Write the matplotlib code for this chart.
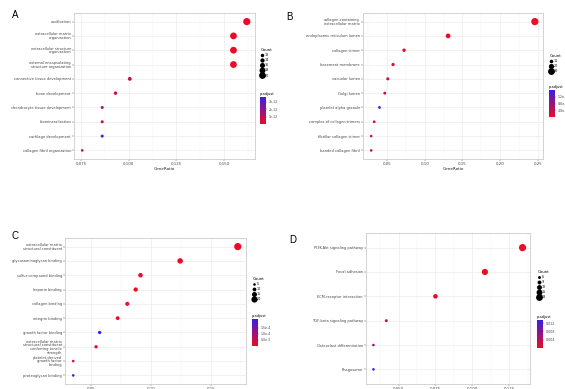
import numpy as np
import matplotlib
matplotlib.use("Agg")
import matplotlib.pyplot as plt
from matplotlib.colors import LinearSegmentedColormap, Normalize
from matplotlib.lines import Line2D
from matplotlib.ticker import FuncFormatter

W, H = 565, 389

# ---- panel A: GO biological process
a_terms = ["ossification", "extracellular matrix\norganization",
           "extracellular structure\norganization",
           "external encapsulating\nstructure organization",
           "connective tissue development", "bone development",
           "chondrocyte tissue development", "biomineralization",
           "cartilage development", "collagen fibril organization"]
a_ratio = [0.162, 0.155, 0.155, 0.155, 0.1005, 0.093, 0.086, 0.086, 0.086, 0.0755]
a_count = [21, 20, 20, 20, 13, 12, 11, 11, 11, 10]
a_padj = [1.2e-14, 3e-14, 3e-14, 3e-14, 8e-13, 6e-13, 1.1e-12, 9e-13, 3.6e-12, 1.5e-12]
a_xticks = [0.075, 0.100, 0.125, 0.150]
a_sizes = [12, 14, 16, 18, 20]
a_cticks = [1e-12, 2e-12, 3e-12]

# ---- panel B: GO cellular component
b_terms = ["collagen-containing\nextracellular matrix", "endoplasmic reticulum lumen",
           "collagen trimer", "basement membrane", "vacuolar lumen", "Golgi lumen",
           "platelet alpha granule", "complex of collagen trimers",
           "fibrillar collagen trimer", "banded collagen fibril"]
b_ratio = [0.246, 0.131, 0.0726, 0.058, 0.051, 0.047, 0.040, 0.033, 0.029, 0.029]
b_count = [32, 17, 9, 8, 7, 6, 5, 5, 4, 4]
b_padj = [2e-18, 5e-9, 3e-7, 1.2e-6, 2e-6, 2.5e-6, 1.6e-5, 3e-6, 4e-6, 4e-6]
b_xticks = [0.05, 0.10, 0.15, 0.20, 0.25]
b_sizes = [10, 20, 30]
b_cticks = [4e-6, 8e-6, 1.2e-5]

# ---- panel C: GO molecular function
c_terms = ["extracellular matrix\nstructural constituent", "glycosaminoglycan binding",
           "sulfur compound binding", "heparin binding", "collagen binding",
           "integrin binding", "growth factor binding",
           "extracellular matrix\nstructural constituent\nconferring tensile\nstrength",
           "platelet-derived\ngrowth factor\nbinding",
           "proteoglycan binding"]
c_ratio = [0.172, 0.124, 0.091, 0.087, 0.080, 0.072, 0.057, 0.054, 0.035, 0.035]
c_count = [24, 17, 13, 12, 11, 10, 8, 8, 5, 5]
c_padj = [1e-15, 1e-8, 2e-7, 3e-7, 4e-7, 6e-7, 2.2e-4, 4e-6, 3e-5, 2.1e-4]
c_xticks = [0.05, 0.10, 0.15]
c_sizes = [5, 10, 15, 20]
c_cticks = [5e-5, 1e-4, 1.5e-4]

# ---- panel D: KEGG
d_terms = ["PI3K-Akt signaling pathway", "Focal adhesion", "ECM-receptor interaction",
           "TGF-beta signaling pathway", "Osteoclast differentiation", "Phagosome"]
d_ratio = [0.134, 0.1085, 0.075, 0.0417, 0.033, 0.033]
d_count = [19, 16, 11, 6, 5, 5]
d_padj = [1e-6, 2e-5, 3e-5, 0.004, 0.006, 0.0135]
d_xticks = [0.050, 0.075, 0.100, 0.125]
d_sizes = [6, 9, 12, 15, 18]
d_cticks = [0.004, 0.008, 0.012]

cmap = LinearSegmentedColormap.from_list("rb", ["#ee0a24", "#3b1fe0"])


def rect(x0, y0, x1, y1):
    return [x0 / W, 1 - y1 / H, (x1 - x0) / W, (y1 - y0) / H]


def sci(v, _):
    return ("%.0e" % v).replace("e-0", "e-")


def fmt2(v, _):
    return ("%.1e" % v).replace("e-0", "e-")


fig = plt.figure(figsize=(W / 100, H / 100), dpi=100)


def panel(letter, lpos, box, terms, ratio, count, padj, xticks, xfmt,
          sizes, cticks, cfmt, leg_xy, cbar_box):
    ax = fig.add_axes(rect(*box))
    n = len(terms)
    lo, hi = min(count), max(count)

    def dia(c):
        return (2.6 + 4.6 * (c - lo) / max(hi - lo, 1)) * 0.72

    norm = Normalize(min(padj), max(padj))
    y = np.arange(n)
    ax.scatter(ratio, y, s=[dia(c) ** 2 for c in count], c=padj, cmap=cmap,
               norm=norm, zorder=3, linewidths=0)
    rng = max(ratio) - min(ratio)
    ax.set_xlim(min(ratio) - 0.05 * rng, max(ratio) + 0.05 * rng)
    ax.set_ylim(n - 1 + 0.6, -0.6)
    ax.set_yticks(y)
    ax.set_yticklabels(terms, fontsize=2.6, color="#444444", linespacing=0.9)
    ax.set_xticks(xticks)
    ax.xaxis.set_major_formatter(FuncFormatter(lambda v, _: xfmt % v))
    ax.tick_params(axis="x", labelsize=2.8, colors="#444444", length=1.2,
                   width=0.3, pad=1)
    ax.tick_params(axis="y", length=1.2, width=0.3, pad=1, colors="#444444")
    ax.set_xlabel("GeneRatio", fontsize=3, labelpad=0.5, color="#222222")
    ax.grid(True, color="#ebebeb", linewidth=0.5, zorder=0)
    step = xticks[1] - xticks[0]
    mids = [xticks[0] - step / 2] + [t + step / 2 for t in xticks]
    for m in mids:
        ax.axvline(m, color="#f4f4f4", linewidth=0.3, zorder=0)
    for s in ax.spines.values():
        s.set_color("#cccccc")
        s.set_linewidth(0.6)
    ax.set_axisbelow(True)
    fig.text(lpos[0] / W, 1 - lpos[1] / H, letter, fontsize=7,
             ha="left", va="center", family="Liberation Sans")

    handles = [Line2D([], [], marker="o", linestyle="", color="black",
                      markersize=dia(c), markeredgewidth=0) for c in sizes]
    leg = fig.legend(handles, [str(c) for c in sizes], title="Count",
                     loc="upper left",
                     bbox_to_anchor=(leg_xy[0] / W, 1 - leg_xy[1] / H),
                     fontsize=2.4, title_fontsize=2.8, frameon=False,
                     handletextpad=0.3, labelspacing=0.35, borderpad=0,
                     handlelength=1.0)
    leg._legend_box.align = "left"

    cax = fig.add_axes(rect(*cbar_box))
    cb = fig.colorbar(plt.cm.ScalarMappable(norm=norm, cmap=cmap), cax=cax)
    cb.set_ticks(cticks)
    cb.ax.yaxis.set_major_formatter(FuncFormatter(cfmt))
    cb.ax.tick_params(labelsize=2.3, length=1, width=0.3, pad=1, colors="#444444")
    cb.outline.set_visible(False)
    cax.set_title("p.adjust", fontsize=2.6, pad=1.5, loc="left")
    return ax


panel("A", (12, 15), (74, 13, 255, 159), a_terms, a_ratio, a_count, a_padj,
      a_xticks, "%.3f", a_sizes, a_cticks, sci, (259, 46), (260, 97, 266, 124))
panel("B", (286, 17), (363, 13, 543, 159), b_terms, b_ratio, b_count, b_padj,
      b_xticks, "%.2f", b_sizes, b_cticks, fmt2, (548, 52), (549, 90, 555, 117))
panel("C", (12, 236), (65, 238, 246, 384), c_terms, c_ratio, c_count, c_padj,
      c_xticks, "%.2f", c_sizes, c_cticks, fmt2, (251, 275), (252, 319, 258, 346))
panel("D", (289, 240), (366, 233, 530, 384), d_terms, d_ratio, d_count, d_padj,
      d_xticks, "%.3f", d_sizes, d_cticks, lambda v, _: "%.3f" % v,
      (536, 268), (537, 320, 543, 348))

fig.savefig("out.png", dpi=100)
